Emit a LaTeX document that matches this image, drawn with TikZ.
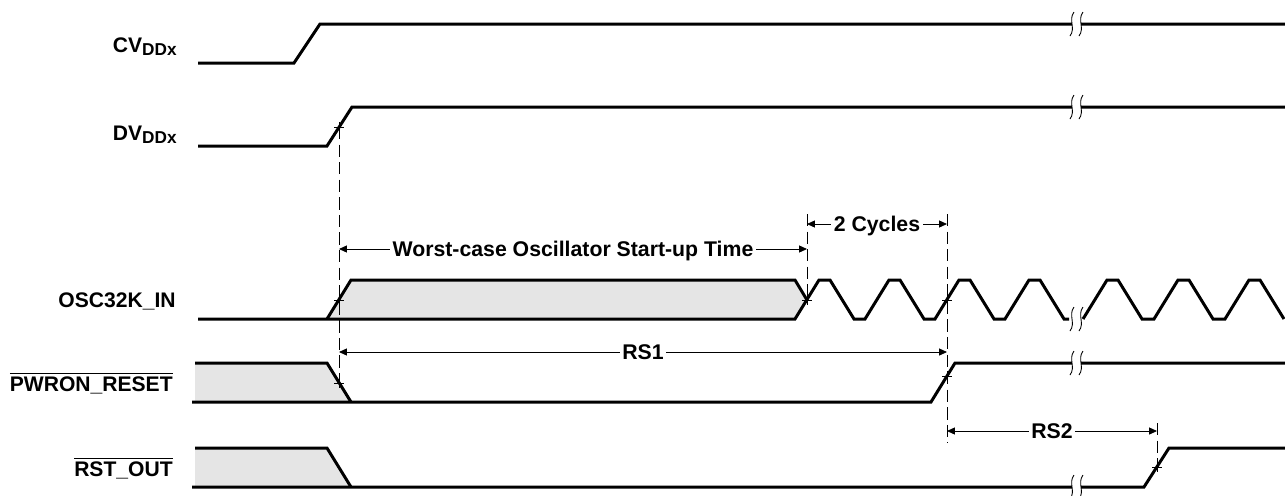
\documentclass[tikz,border=0pt]{standalone}
\usepackage{fontspec}
\setmainfont{Liberation Sans}
\usetikzlibrary{arrows.meta}

\tikzset{
    % Signal trace
    wave/.style={line width=1.7pt, line join=miter},
    % Unknown / undefined state
    undef/.style={fill=black!10, draw=none},
    % Dashed reference line
    guide/.style={line width=0.5pt, dash pattern=on 7pt off 3pt},
    % Timing dimension
    span/.style={
        {Triangle[length=4.5pt, width=4pt]}-{Triangle[length=4.5pt, width=4pt]},
        line width=0.5pt
    },
    % Crossing mark
    tick mark/.style={line width=0.5pt},
    % Signal name
    signame/.style={anchor=base east, inner sep=0pt,
        font=\fontsize{12}{14}\selectfont\bfseries},
    % Dimension text
    dimtext/.style={fill=white, inner sep=1.5pt, text height=8.6pt, text depth=0pt,
        font=\fontsize{12.1}{14}\selectfont\bfseries}
}

\newcommand{\lowtext}[1]{\raisebox{-0.35ex}{\fontsize{9.8}{11}\selectfont #1}}
\newcommand{\negsig}[1]{$\overline{\hbox{#1}}$}
\newcommand{\crossat}[1]{\draw[tick mark] #1 +(-5,0) -- +(5,0) #1 +(0,-5) -- +(0,5);}
\newcommand{\brkmark}[2]{%
    \fill[white] (#1,#2-2.6) rectangle (#1+9,#2+2.6);
    \foreach \dx in {0,9}
        \draw[line width=0.5pt] (#1+\dx+2,#2-12) .. controls (#1+\dx-4,#2-4) and (#1+\dx+4,#2+4) .. (#1+\dx-2,#2+12);
}

\begin{document}
\begin{tikzpicture}[x=0.02cm, y=-0.02cm]
    \useasboundingbox (0,0) rectangle (1285,495);

    % Signal names
    \node[signame] (cv) at (177,52) {CV\lowtext{DDx}};
    \node[signame] (dv) at (177,140) {DV\lowtext{DDx}};
    \node[signame] (osc) at (176,307) {OSC32K\_IN};
    \node[signame] (pwron) at (173,391) {\negsig{PWRON\_RESET}};
    \node[signame] (rstout) at (173,476) {\negsig{RST\_OUT}};

    % Crossing points
    \coordinate (dvx) at (339,127);
    \coordinate (oscA) at (339,300);
    \coordinate (oscB) at (807,300);
    \coordinate (oscC) at (947,300);
    \coordinate (pwA) at (339,383);
    \coordinate (pwB) at (947,376);
    \coordinate (rsB) at (1157,467);

    % Undefined regions
    \fill[undef] (327,319) -- (351,280) -- (795,280) -- (807,300) -- (795,319) -- cycle;
    \fill[undef] (195,363) -- (327,363) -- (351,402) -- (195,402) -- cycle;
    \fill[undef] (195,448) -- (327,448) -- (351,487) -- (195,487) -- cycle;

    % Waveforms
    \draw[wave] (198,63) -- (294,63) -- (320,24) -- (1285,24);
    \draw[wave] (198,146) -- (327,146) -- (352,107) -- (1285,107);
    \draw[wave] (327,319) -- (351,280) -- (795,280) -- (807,300);
    \draw[wave] (198,319) -- (795,319)
        \foreach \m in {807,877,947,1017} {-- (\m-12,319) -- (\m+12,280) -- (\m+23,280) -- (\m+47,319)}
        -- (1069,319);
    \draw[wave] (1083,319)
        \foreach \m in {1095,1166,1237} {-- (\m-12,319) -- (\m+12,280) -- (\m+23,280) -- (\m+47,319)};
    \draw[wave] (195,363) -- (327,363) -- (351,402);
    \draw[wave] (192,402) -- (931,402) -- (955,363) -- (1285,363);
    \draw[wave] (195,448) -- (327,448) -- (351,487);
    \draw[wave] (192,487) -- (1144,487) -- (1169,448) -- (1285,448);

    % Breaks
    \brkmark{1072}{24}
    \brkmark{1072}{107}
    \brkmark{1072}{319}
    \brkmark{1072}{363}
    \brkmark{1072}{487}

    % Reference lines
    \coordinate (g2top) at (807,214);
    \coordinate (g3top) at (947,214);
    \coordinate (g3bot) at (947,443);
    \coordinate (g4top) at (1157,423);
    \draw[guide] (dvx) -- (pwA);
    \draw[guide] (g2top) -- (oscB);
    \draw[guide] (g3top) -- (g3bot);
    \draw[guide] (g4top) -- (rsB);

    % Crossings
    \crossat{(dvx)}
    \crossat{(oscA)}
    \crossat{(oscB)}
    \crossat{(oscC)}
    \crossat{(pwA)}
    \crossat{(pwB)}
    \crossat{(rsB)}

    % Timing spans
    \coordinate (wsL) at (339,249);
    \coordinate (wsR) at (807,249);
    \coordinate (cyL) at (807,224);
    \coordinate (cyR) at (947,224);
    \coordinate (rs1L) at (339,352);
    \coordinate (rs1R) at (947,352);
    \coordinate (rs2L) at (947,431);
    \coordinate (rs2R) at (1157,431);
    \draw[span] (wsL) -- (wsR) node[midway, dimtext] (ws) {Worst-case Oscillator Start-up Time};
    \draw[span] (cyL) -- (cyR) node[midway, dimtext] (cy) {2 Cycles};
    \draw[span] (rs1L) -- (rs1R) node[midway, dimtext] (rs1) {RS1};
    \draw[span] (rs2L) -- (rs2R) node[midway, dimtext] (rs2) {RS2};
\end{tikzpicture}
\end{document}
